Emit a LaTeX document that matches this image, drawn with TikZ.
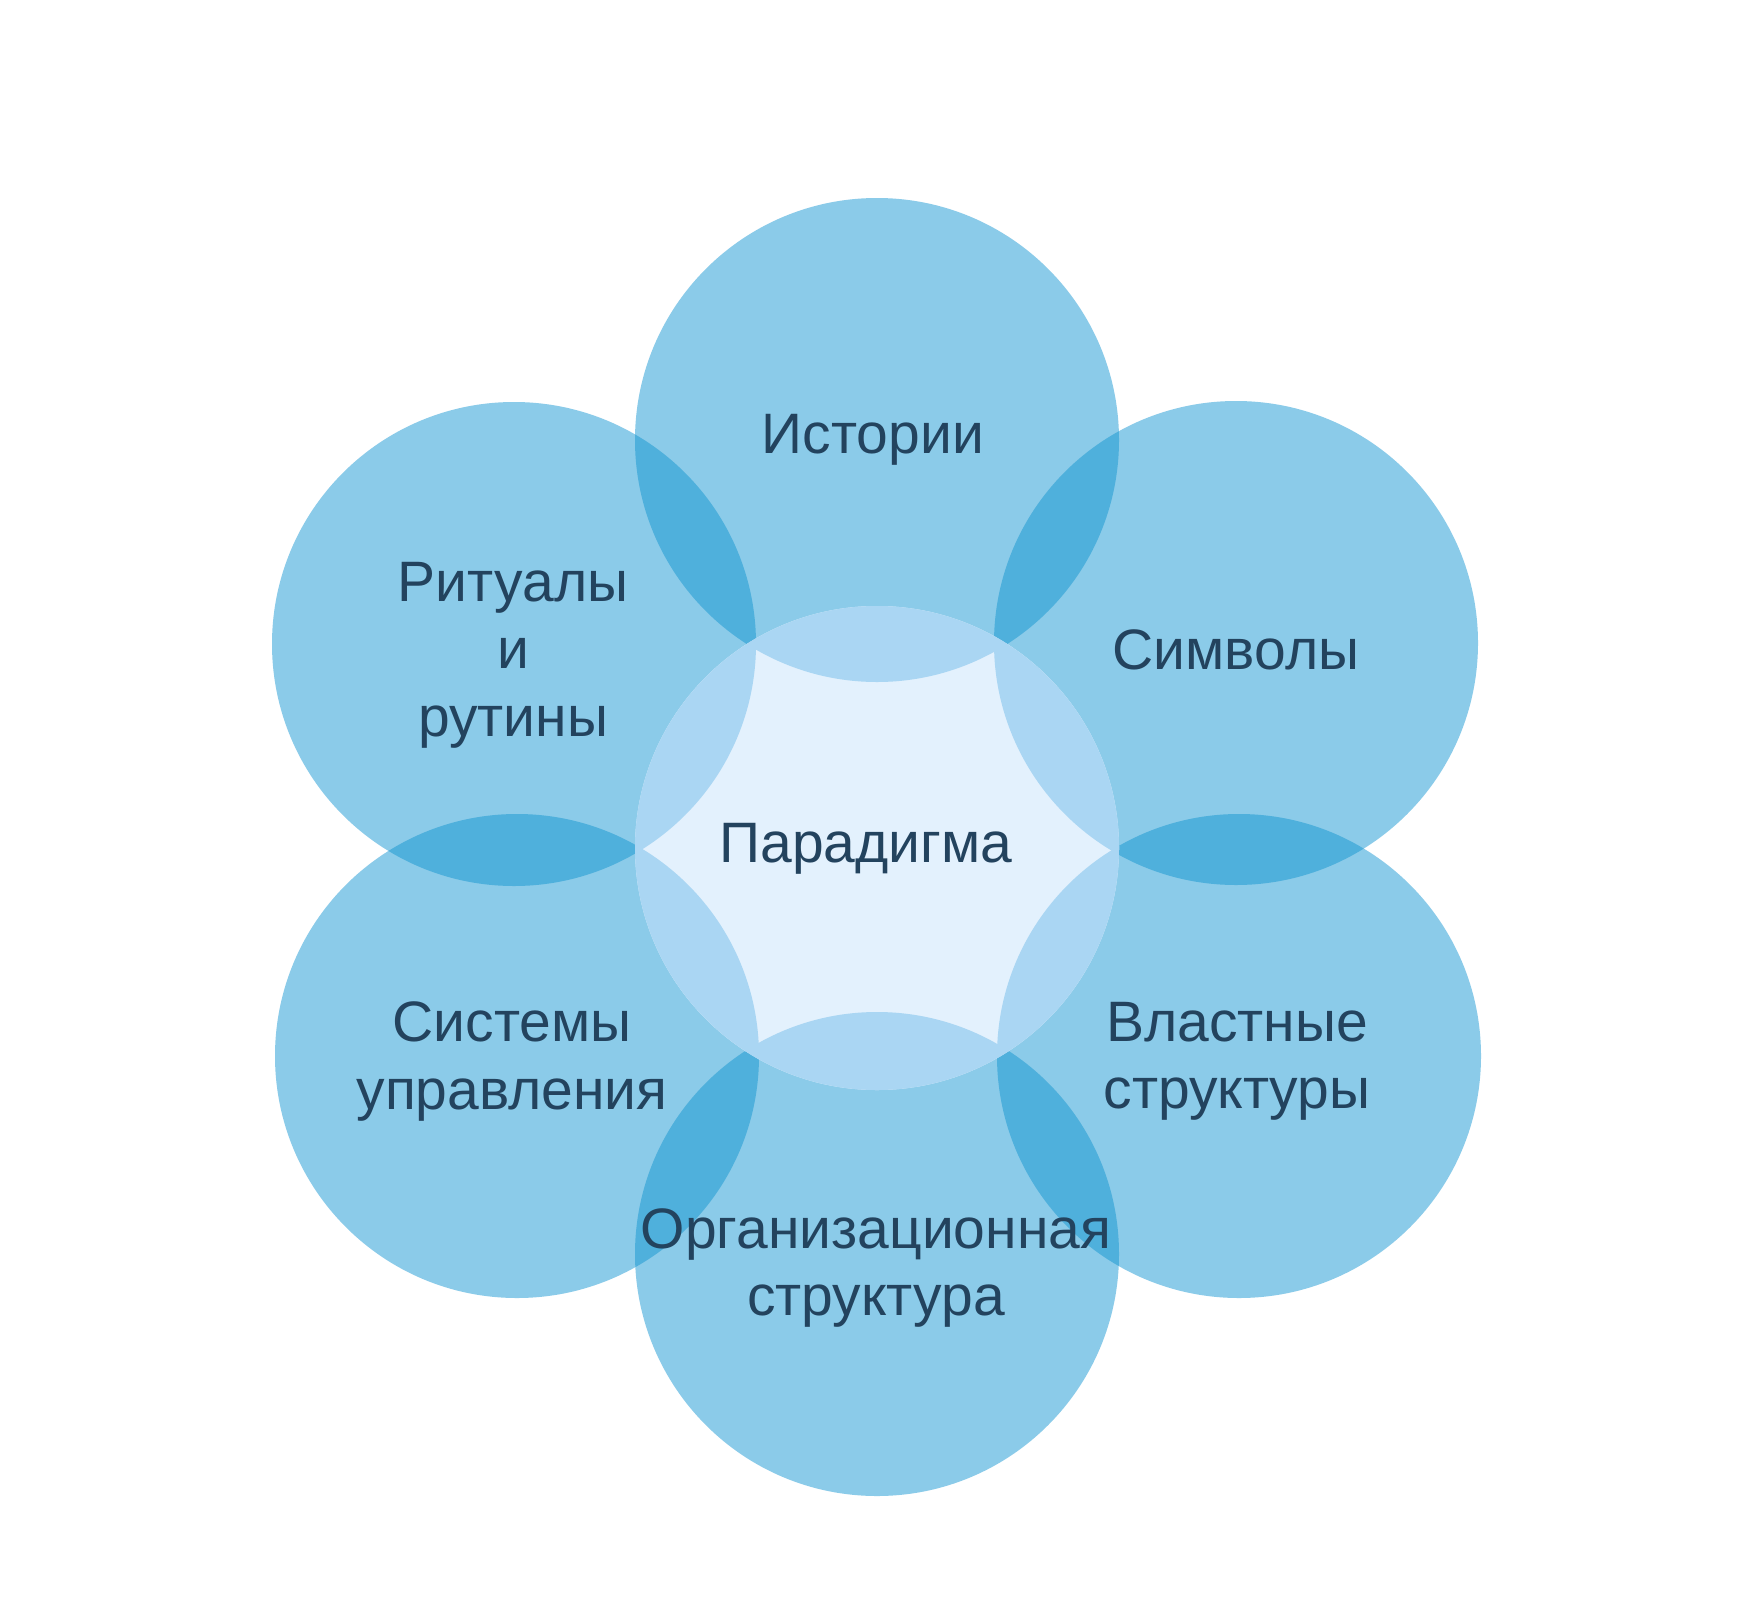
\documentclass[tikz,border=0pt]{standalone}
\usepackage{fontspec}
\setmainfont{Liberation Sans}
\definecolor{outerblue}{RGB}{139,203,233}
\definecolor{lensblue}{RGB}{79,176,220}
\definecolor{corepale}{RGB}{227,241,253}
\definecolor{coremix}{RGB}{170,214,243}
\definecolor{labelnavy}{RGB}{35,67,94}
\begin{document}
\begin{tikzpicture}[x=0.5pt,y=-0.5pt,
  lbl/.style={anchor=base,text width=270pt,align=center,inner sep=0pt,
    text=labelnavy,font=\fontsize{28.5}{33.8}\selectfont}]
\fill[white] (0,0) rectangle (1751,1622);
\useasboundingbox (0,0) rectangle (1751,1622);
% circle centres
\coordinate (cC)  at (877,848);
\coordinate (cT)  at (877,440);
\coordinate (cUL) at (514,644);
\coordinate (cUR) at (1236,643);
\coordinate (cLL) at (517,1056);
\coordinate (cLR) at (1239,1056);
\coordinate (cB)  at (877,1254);
% outer circles
\foreach \c in {cT,cUL,cUR,cLL,cLR,cB}
  \fill[outerblue] (\c) circle (242);
% overlaps of neighbouring outer circles
\foreach \a/\b in {cT/cUL,cT/cUR,cUR/cLR,cLR/cB,cB/cLL,cLL/cUL}{
  \begin{scope}
    \clip (\a) circle (242);
    \fill[lensblue] (\b) circle (242);
  \end{scope}}
% central circle
\fill[corepale] (cC) circle (242);
\begin{scope}
  \clip (cC) circle (242);
  \foreach \c in {cT,cUL,cUR,cLL,cLR,cB}
    \fill[coremix] (\c) circle (242);
\end{scope}
% labels
\node[lbl] (paradigm) at (866,862) {Парадигма};
\node[lbl] (stories)  at (873,453) {Истории};
\node[lbl] (symbols)  at (1236,669) {Символы};
\node[lbl] (rituals)  at (513,601) {Ритуалы\\и\\рутины};
\node[lbl] (control)  at (512,1041.5) {Системы\\управления};
\node[lbl] (power)    at (1237,1041) {Властные\\структуры};
\node[lbl] (orgstruct) at (876,1248) {Организационная\\структура};
\end{tikzpicture}
\end{document}
